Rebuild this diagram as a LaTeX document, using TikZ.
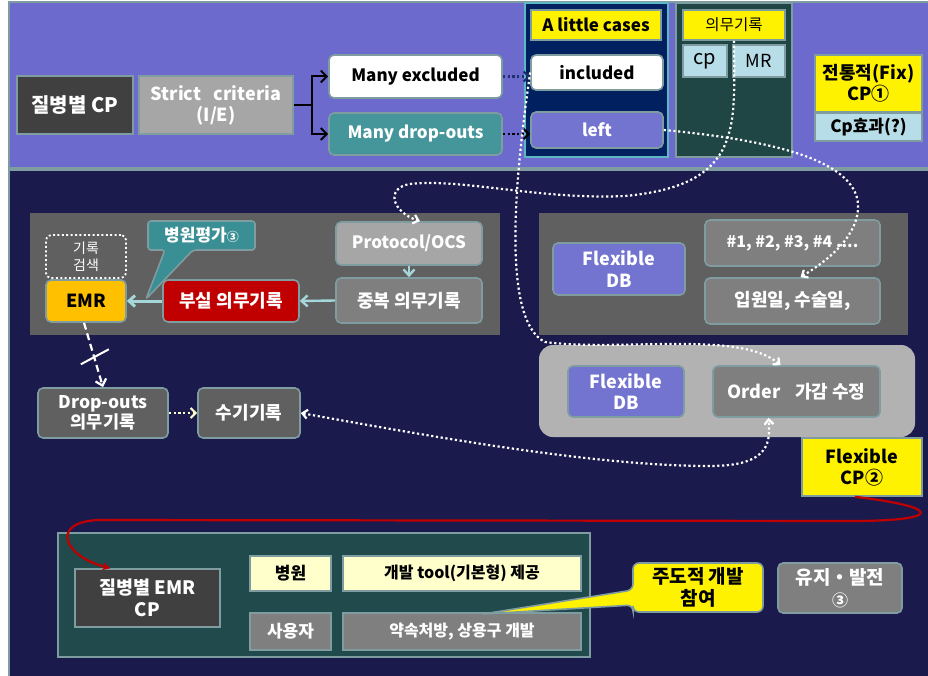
\documentclass[tikz,border=0pt]{standalone}
\usepackage{fontspec}
\setmainfont{Noto Sans CJK KR}
\usetikzlibrary{arrows.meta}
\definecolor{topband}{RGB}{108,106,205}
\definecolor{navybg}{RGB}{27,26,77}
\definecolor{bord}{RGB}{127,156,160}
\definecolor{dgray}{RGB}{64,64,64}
\definecolor{mgray}{RGB}{166,166,166}
\definecolor{tealn}{RGB}{69,150,155}
\definecolor{navyp}{RGB}{0,32,96}
\definecolor{cyanb}{RGB}{94,184,196}
\definecolor{dteal}{RGB}{31,69,69}
\definecolor{lblue}{RGB}{183,222,232}
\definecolor{pgray}{RGB}{96,96,96}
\definecolor{gnode}{RGB}{127,127,127}
\definecolor{purpn}{RGB}{115,115,208}
\definecolor{lgpanel}{RGB}{178,178,178}
\definecolor{orangen}{RGB}{255,192,0}
\definecolor{redn}{RGB}{192,0,0}
\definecolor{lyel}{RGB}{255,255,204}
\definecolor{bteal}{RGB}{33,74,77}
\definecolor{callteal}{RGB}{58,143,148}
\definecolor{arrcyan}{RGB}{165,214,217}
\definecolor{dotnavy}{RGB}{31,47,111}
\newcommand\bx[7]{\node[#6, minimum width={(#4-#2)*1pt}, minimum height={(#5-#3)*1pt}] (#1) at ({(#2+#4)/2},{(#3+#5)/2}) {#7};}
\newcommand\fsz[1]{\fontsize{#1}{\dimexpr #1pt*118/100\relax}\selectfont}
\tikzset{
  box/.style={draw=bord, line width=1.6pt, inner sep=0pt, align=center, text=white, font=\bfseries\fsz{17}},
  rbox/.style={box, rounded corners=5pt},
  fr/.style={font=\fsz{#1}},
  fb/.style={font=\bfseries\fsz{#1}},
  wdot/.style={draw=white, line width=2.2pt, dash pattern=on 2.2pt off 2.6pt, -{Straight Barb[length=5pt,width=9pt]}},
  cyarr/.style={draw=arrcyan, line width=2.4pt, -{Straight Barb[length=6pt,width=11pt]}},
  blk/.style={draw=black, line width=2pt},
}
\begin{document}
\begin{tikzpicture}[x=1pt,y=-1pt]
\fill[white] (0,0) rectangle (928,676);
\useasboundingbox (0,0) rectangle (928,676);
\clip (0,0) rectangle (928,676);
% bands
\draw[draw=bord, line width=2pt, fill=topband] (9,2) rectangle (935,168);
\draw[draw=bord, line width=2pt, fill=navybg] (9,170) rectangle (935,690);

% top row
\bx{cp}{17}{76}{133}{134}{box,fill=dgray,fb=20}{질병별 CP}
\bx{strict}{139}{76}{293}{134}{box,fill=mgray,fb=18}{Strict\hspace{0.7em}criteria\\(I/E)}
\bx{excl}{329}{55}{502}{98}{rbox,fill=white,text=black}{Many excluded}
\bx{drop}{329}{113}{502}{155}{rbox,fill=tealn}{Many drop-outs}
\bx{pnla}{525}{3}{668}{157}{draw=cyanb,line width=1.8pt,fill=navyp}{}
\bx{little}{531}{10}{661}{40}{box,fill=yellow,text=black}{A little cases}
\bx{incl}{531}{55}{663}{90}{rbox,fill=white,text=black}{included}
\bx{left}{531}{112}{663}{148}{rbox,fill=purpn}{left}
\bx{pnlb}{676}{3}{792}{157}{draw=bord,line width=1.8pt,fill=dteal}{}
\bx{rec}{683}{10}{785}{40}{box,fill=yellow,text=black,fr=15.5}{의무기록}
\bx{cpb}{683}{45}{727}{77}{box,fill=lblue,text=black,fr=20}{cp}
\bx{mr}{733}{45}{785}{77}{box,fill=lblue,text=black,fr=18}{MR}
\bx{fix}{815}{55}{922}{112}{box,fill=yellow,text=black,fb=18}{전통적(Fix)\\CP①}
\bx{eff}{815}{113}{922}{141}{box,fill=lblue,text=black}{Cp효과(?)}

% top connectors
\coordinate (br) at (312,105);
\draw[blk] (strict.east) -- (br);
\draw[blk,-{Straight Barb[length=6pt,width=12pt]}] (br) |- (excl.west);
\draw[blk,-{Straight Barb[length=6pt,width=12pt]}] (br) |- (drop.west);
\draw[draw=dotnavy, line width=2.2pt, dash pattern=on 2.2pt off 2.6pt, -{Straight Barb[length=5pt,width=10pt]}] (excl.east) -- (excl.east -| incl.west);
\draw[draw=black, line width=2.2pt, dash pattern=on 2.2pt off 2.6pt, -{Straight Barb[length=5pt,width=10pt]}] (drop.east) -- (drop.east -| left.west);

% middle panels
\bx{gpa}{30}{213}{500}{335}{fill=pgray,inner sep=0pt}{}
\bx{gpb}{539}{213}{908}{335}{fill=pgray,inner sep=0pt}{}
\bx{search}{46}{235}{126}{278}{draw=white,line width=1.8pt,dash pattern=on 2pt off 2.4pt,rounded corners=5pt,text=white,align=center,inner sep=0pt,fr=14}{기록\\검색}
\bx{emr}{46}{280}{126}{322}{rbox,fill=orangen,text=black,fb=18}{EMR}
\bx{bad}{163}{280}{299}{322}{rbox,fill=redn,fb=18}{부실 의무기록}
\bx{proto}{336}{222}{482}{265}{rbox,fill=mgray}{Protocol/OCS}
\bx{dup}{336}{278}{482}{323}{rbox,fill=gnode,fb=18}{중복 의무기록}
\bx{fdba}{553}{243}{685}{295}{rbox,fill=purpn,fb=18}{Flexible\\DB}
\bx{nums}{705}{220}{880}{266}{rbox,fill=gnode,fb=16}{\#1, \#2, \#3, \#4 ....}
\bx{adm}{705}{278}{880}{324}{rbox,fill=gnode,fb=18}{입원일, 수술일,}
\bx{lp}{539}{345}{915}{437}{fill=lgpanel,rounded corners=14pt,inner sep=0pt}{}
\bx{fdbb}{568}{366}{684}{417}{rbox,fill=purpn,fb=18}{Flexible\\DB}
\bx{order}{713}{366}{880}{417}{rbox,fill=gnode,fb=18}{Order\hspace{0.8em}가감 수정}
\bx{fcp}{802}{438}{922}{496}{box,fill=yellow,text=black,fb=18}{Flexible\\CP②}
\bx{dro}{38}{388}{168}{438}{rbox,fill=pgray,fb=17.5}{Drop-outs\\의무기록}
\bx{hand}{198}{388}{300}{438}{rbox,fill=pgray,fb=18}{수기기록}

% callout 병원평가
\draw[draw=bord, line width=1.6pt, fill=callteal, rounded corners=3pt]
  (148,221) -- (255,221) -- (255,250) -- (193,250) -- (146,299) -- (165,250) -- (148,250) -- cycle;
\node[text=white, fb=17, inner sep=0pt] (evalt) at (201.5,235.5) {병원평가{\fontsize{12}{14}\selectfont ③}};

% middle connectors
\draw[cyarr] (proto.south) -- (dup.north);
\draw[cyarr] (dup.west) -- (bad.east);
\draw[cyarr, line width=3pt] (bad.west) -- (emr.east);
\path (emr.south) -- (dro.north) coordinate[pos=0.52] (xm);
\draw[draw=white, line width=2.2pt, dash pattern=on 7pt off 4pt, -{Straight Barb[length=6pt,width=11pt]}] ([xshift=-2pt]emr.south) -- (dro.north);
\draw[draw=white, line width=2pt] (xm) ++(-14,8) -- ++(28,-15);
\draw[draw=lyel, line width=2.2pt, dash pattern=on 2.2pt off 2.6pt, -{Straight Barb[length=5pt,width=10pt]}] (dro.east) -- (hand.west);

% bottom panel
\bx{bp}{58}{533}{590}{657}{draw=bord,line width=1.8pt,fill=bteal,inner sep=0pt}{}
\bx{emrcp}{75}{569}{220}{627}{box,fill=dgray,fb=18.5}{질병별 EMR\\CP}
\bx{hosp}{250}{556}{331}{591}{box,fill=lyel,text=black}{병원}
\bx{tool}{343}{556}{581}{591}{box,fill=lyel,text=black,fb=16}{개발 tool(기본형) 제공}
\bx{user}{250}{613}{331}{650}{box,fill=gnode}{사용자}
\bx{promise}{343}{613}{581}{650}{box,fill=gnode,fb=16}{약속처방, 상용구 개발}
\bx{keep}{778}{563}{902}{613}{rbox,fill=gnode,fb=19}{유지・발전\\{\fontsize{16}{18}\selectfont ③}}

% callout 주도적 개발 참여
\draw[draw=bord, line width=1.6pt, fill=yellow, rounded corners=6pt]
  (633,563) -- (763,563) -- (763,612) -- (633,612) -- (633,605) [sharp corners] -- (483,614) [rounded corners=6pt] -- (633,590) -- cycle;
\node[text=black, fb=19, align=center, inner sep=0pt] (lead) at (698,587.5) {주도적 개발\\참여};

% white dotted curves
\draw[wdot] (rec.south) .. controls (734,125) and (745,185) .. (625,196)
  .. controls (540,200) and (460,178) .. (410,184)
  .. controls (385,188) and (392,212) .. ([xshift=11pt]proto.north);
\draw[wdot] (incl.west) .. controls (516,170) and (500,320) .. (545,342)
  .. controls (620,352) and (740,330) .. ([xshift=-16pt]order.north);
\draw[wdot] (left.east) .. controls (770,140) and (862,160) .. (858,210)
  .. controls (855,240) and (825,262) .. ([xshift=8pt]adm.north);
\draw[wdot, {Straight Barb[length=5pt,width=9pt]}-{Straight Barb[length=5pt,width=9pt]}] (hand.east)
  .. controls (450,440) and (600,466) .. (710,466)
  .. controls (772,466) and (770,440) .. ([xshift=-28pt]order.south);

% red curve
\draw[draw=redn, line width=2.2pt, -{Stealth[length=8pt,width=8pt]}] ([xshift=-7pt]fcp.south)
  .. controls (942,507) and (945,521) .. (850,521) -- (100,520)
  .. controls (50,521) and (62,556) .. ([xshift=-37pt]emrcp.north);
\end{tikzpicture}
\end{document}
